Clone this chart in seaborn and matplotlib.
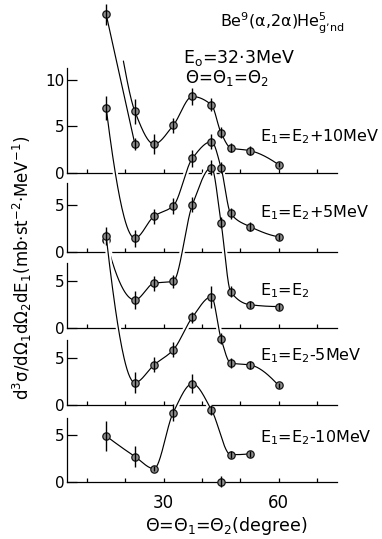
import numpy as np
import matplotlib
matplotlib.use("Agg")
import matplotlib.pyplot as plt
import matplotlib.patheffects as pe
import seaborn as sns

# ---------------------------------------------------------------------------
# Be9(a,2a)He5 ground state, E0 = 32.3 MeV, symmetric angles theta1 = theta2
# cross sections in mb st^-2 MeV^-1, angles in degrees
# ---------------------------------------------------------------------------
theta = [15, 22.5, 27.5, 32.5, 37.5, 42.5, 45, 47.5, 52.5, 60]

# E1 = E2 + 10 MeV : two runs
p10a_theta = [15, 22.5]
p10a_sigma = [17.0, 3.1]
p10a_err = [1.1, 0.6]
p10b_theta = [22.5, 27.5, 32.5, 37.5, 42.5, 45, 47.5, 52.5, 60]
p10b_sigma = [6.6, 3.1, 5.1, 8.2, 7.3, 4.3, 2.7, 2.4, 0.9]
p10b_err = [1.3, 1.1, 0.8, 0.9, 0.7, 0.6, 0.5, 0.45, 0.3]
p10b_lead = (19.5, 12.0)          # start of the guide curve for run b

# E1 = E2 + 5 MeV
p5_sigma = [15.4, 1.45, 3.8, 4.9, 10.0, 11.8, 9.0, 4.1, 2.7, 1.6]
p5_err = [1.3, 0.9, 0.8, 0.9, 0.9, 0.8, 0.6, 0.6, 0.5, 0.3]

# E1 = E2
e0_sigma = [9.4, 3.0, 4.8, 5.0, 13.2, 17.2, 11.3, 3.9, 2.5, 2.3]
e0_err = [1.0, 1.0, 0.8, 0.7, 0.8, 0.8, 0.6, 0.6, 0.4, 0.4]

# E1 = E2 - 5 MeV
m5_sigma = [18.1, 2.4, 4.3, 5.9, 9.4, 11.6, 7.1, 4.5, 4.3, 2.1]
m5_err = [1.0, 1.1, 0.8, 0.8, 0.6, 1.2, 0.6, 0.5, 0.4, 0.3]

# E1 = E2 - 10 MeV (45 deg point lies off the guide curve)
m10_theta = [15, 22.5, 27.5, 32.5, 37.5, 42.5, 45, 47.5, 52.5]
m10_sigma = [4.9, 2.7, 1.4, 7.4, 10.5, 7.7, 0.0, 2.9, 3.0]
m10_err = [1.6, 1.1, 0.3, 0.9, 1.0, 0.5, 0.6, 0.4, 0.3]
m10_off_curve = [45]

panel_labels = ["E$_1$=E$_2$+10MeV", "E$_1$=E$_2$+5MeV", "E$_1$=E$_2$",
                "E$_1$=E$_2$-5MeV", "E$_1$=E$_2$-10MeV"]
y_ticks = [[0, 5, 10], [0, 5], [0, 5], [0, 5], [0, 5]]
x_minor = [10, 20, 40, 50, 70]
x_major = [30, 60]


def pchip(x, y, n=40):
    """Shape-preserving cubic through the points, used for the guide curves."""
    x = np.asarray(x, float)
    y = np.asarray(y, float)
    h = np.diff(x)
    d = np.diff(y) / h
    m = np.zeros_like(y)
    if len(x) == 2:
        m[:] = d[0]
    else:
        for k in range(1, len(x) - 1):
            if d[k - 1] * d[k] > 0:
                w1 = 2 * h[k] + h[k - 1]
                w2 = h[k] + 2 * h[k - 1]
                m[k] = (w1 + w2) / (w1 / d[k - 1] + w2 / d[k])

        def end(h0, h1, d0, d1):
            mm = ((2 * h0 + h1) * d0 - h0 * d1) / (h0 + h1)
            if np.sign(mm) != np.sign(d0):
                mm = 0.0
            elif np.sign(d0) != np.sign(d1) and abs(mm) > abs(3 * d0):
                mm = 3 * d0
            return mm

        m[0] = end(h[0], h[1], d[0], d[1])
        m[-1] = end(h[-1], h[-2], d[-1], d[-2])
    xs, ys = [], []
    for k in range(len(x) - 1):
        t = np.linspace(0, 1, n, endpoint=(k == len(x) - 2))
        h00 = 2 * t**3 - 3 * t**2 + 1
        h10 = t**3 - 2 * t**2 + t
        h01 = -2 * t**3 + 3 * t**2
        h11 = t**3 - t**2
        xs.append(x[k] + t * h[k])
        ys.append(h00 * y[k] + h10 * h[k] * m[k] + h01 * y[k + 1] + h11 * h[k] * m[k + 1])
    return np.concatenate(xs), np.concatenate(ys)


# ---------------------------------------------------------------------------
sns.set_theme(style="white")
plt.rcParams["font.family"] = ["DejaVu Sans"]
plt.rcParams["mathtext.fontset"] = "dejavusans"
plt.rcParams["mathtext.default"] = "regular"
plt.rcParams["text.color"] = "black"
plt.rcParams["axes.labelcolor"] = "black"
plt.rcParams["xtick.color"] = "black"
plt.rcParams["ytick.color"] = "black"

FIG_W, FIG_H = 382, 539
fig = plt.figure(figsize=(FIG_W / 100, FIG_H / 100), dpi=100)
fig.patch.set_facecolor("white")

XLIM = (4.7, 75.3)
AX_L, AX_R = 66.7, 337.1           # px
PX_PER_UNIT = 9.33
baseline_px = [173, 251.7, 328, 405, 481.7]
spine_top = [11.3, 7.4, 7.0, 7.0, 6.8]


def rect(i):
    return [AX_L / FIG_W, 1 - baseline_px[i] / FIG_H,
            (AX_R - AX_L) / FIG_W, spine_top[i] * PX_PER_UNIT / FIG_H]


def ftext(xpx, ypx, s, **kw):
    fig.text(xpx / FIG_W, 1 - ypx / FIG_H, s, color="black", **kw)


# frames: baselines, left spines and ticks
for i in range(5):
    ax = fig.add_axes(rect(i), zorder=1)
    ax.set_xlim(*XLIM)
    ax.set_ylim(0, spine_top[i])
    ax.patch.set_visible(False)
    for s in ("top", "right"):
        ax.spines[s].set_visible(False)
    for s in ("left", "bottom"):
        ax.spines[s].set_color("black")
        ax.spines[s].set_linewidth(0.9)
    ax.set_yticks(y_ticks[i])
    ax.set_yticklabels([str(v) for v in y_ticks[i]])
    ax.tick_params(axis="y", direction="in", length=7.5, width=0.9, pad=1.5,
                   labelsize=11, colors="black", left=True)
    ax.set_xticks(x_major)
    ax.set_xticks(x_minor, minor=True)
    ax.tick_params(axis="x", which="both", direction="in", length=3.2, width=0.9,
                   colors="black", bottom=True)
    if i == 4:
        ax.set_xticklabels([str(v) for v in x_major])
        ax.tick_params(axis="x", labelsize=12, pad=9)
    else:
        ax.set_xticklabels([])
    ax.grid(False)

# data layers
halo = [pe.Stroke(linewidth=3.8, foreground="white"), pe.Normal()]
marker_kw = dict(s=28, color="#8e8e8e", edgecolor="#141414", linewidth=0.9,
                 zorder=3, clip_on=False, legend=False)

panels = [
    [(p10a_theta, p10a_sigma, p10a_err, None, None),
     (p10b_theta, p10b_sigma, p10b_err, p10b_lead, None)],
    [(theta, p5_sigma, p5_err, None, None)],
    [(theta, e0_sigma, e0_err, None, None)],
    [(theta, m5_sigma, m5_err, None, None)],
    [(m10_theta, m10_sigma, m10_err, None, m10_off_curve)],
]

for i, runs in enumerate(panels):
    dax = fig.add_axes(rect(i), zorder=2 + i)
    dax.set_xlim(*XLIM)
    dax.set_ylim(0, spine_top[i])
    dax.axis("off")
    for th, sg, er, lead, off in runs:
        th = np.asarray(th, float)
        sg = np.asarray(sg, float)
        er = np.asarray(er, float)
        keep = np.ones(len(th), bool) if off is None else ~np.isin(th, off)
        cx, cy = th[keep], sg[keep]
        if lead is not None:
            cx = np.r_[lead[0], cx]
            cy = np.r_[lead[1], cy]
        xs, ys = pchip(cx, cy)
        sns.lineplot(x=xs, y=ys, ax=dax, color="black", linewidth=0.85,
                     sort=False, estimator=None, clip_on=False,
                     path_effects=halo, zorder=2)
        sns.scatterplot(x=th, y=sg, ax=dax, **marker_kw)
        dax.vlines(th, sg - er, sg + er, colors="black", linewidth=1.0,
                   zorder=4, clip_on=False)
    ftext(260, [141.7, 217, 295, 360, 442][i], panel_labels[i],
          fontsize=11.5, ha="left", va="baseline")

# annotations
ftext(220, 27, "Be$^9$(α,2α)He$^5_{\\mathrm{g’nd}}$", fontsize=11.5,
      ha="left", va="baseline")
ftext(183, 63, "E$_\\mathrm{o}$=32·3MeV", fontsize=12.5, ha="left", va="baseline")
ftext(185, 83, "Θ=Θ$_1$=Θ$_2$", fontsize=12, ha="left", va="baseline")

ftext(22, 268, "d$^3$σ/dΩ$_1$dΩ$_2$dE$_1$(mb·st$^{-2}$·MeV$^{-1}$)",
      fontsize=12, rotation=90, ha="center", va="center")
ftext(226, 526, "Θ=Θ$_1$=Θ$_2$(degree)", fontsize=12.5, ha="center",
      va="center")

fig.savefig("out.png", dpi=100, facecolor="white")
